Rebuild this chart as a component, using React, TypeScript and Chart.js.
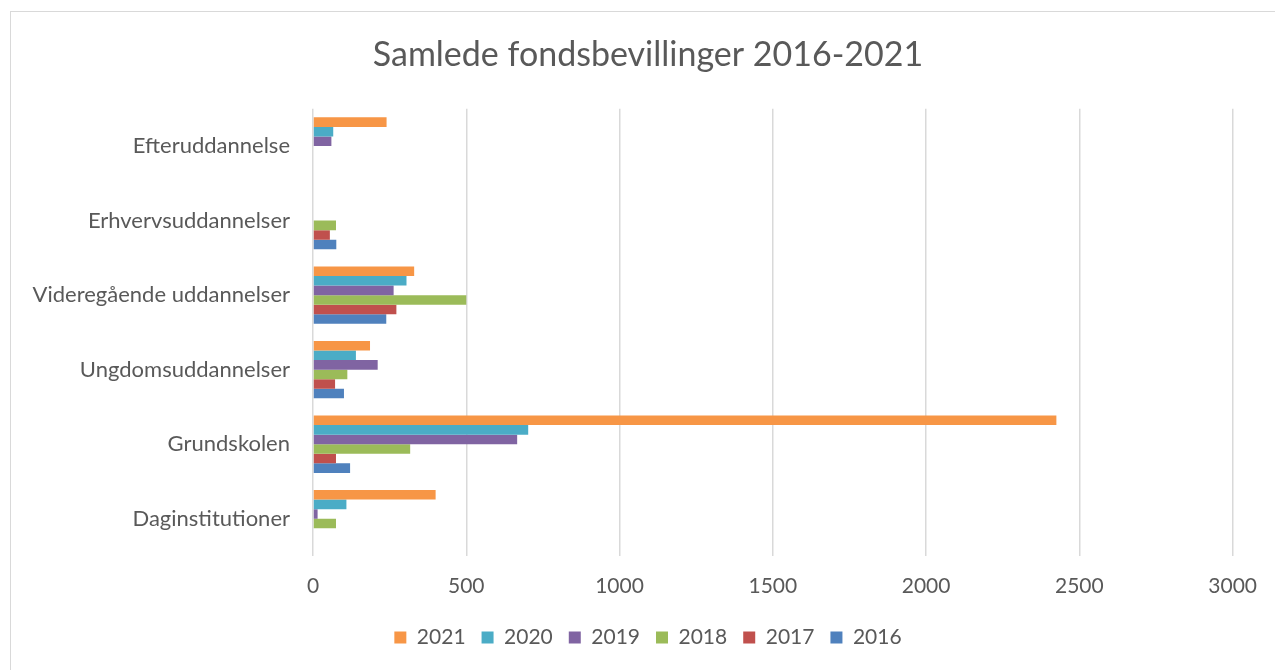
import React, { useEffect, useRef } from "react";
import { Chart, registerables } from "chart.js";

Chart.register(...registerables);

const categories = [
  "Efteruddannelse",
  "Erhvervsuddannelser",
  "Videregående uddannelser",
  "Ungdomsuddannelser",
  "Grundskolen",
  "Daginstitutioner",
];
const years = ["2021", "2020", "2019", "2018", "2017", "2016"];
const v2021 = [240, 0, 330, 186, 2425, 400];
const v2020 = [66, 0, 305, 140, 702, 109];
const v2019 = [60, 0, 263, 211, 666, 15];
const v2018 = [0, 75, 500, 112, 317, 75];
const v2017 = [0, 55, 272, 72, 75, 0];
const v2016 = [0, 76, 239, 101, 121, 0];
const seriesValues = [v2021, v2020, v2019, v2018, v2017, v2016];
const seriesColors = ["#F79646", "#4BACC6", "#8064A2", "#9BBB59", "#C0504D", "#4F81BD"];
const xTicks = [0, 500, 1000, 1500, 2000, 2500, 3000];
const titleText = "Samlede fondsbevillinger 2016-2021";

const FONT = "Lato";
const TEXT = "#595959";

const unclipLabels = {
  id: "unclipLabels",
  afterLayout(chart: any) {
    if (chart.scales.y) chart.scales.y.left = 0;
  },
};

export default function App() {
  const ref = useRef<HTMLCanvasElement | null>(null);

  useEffect(() => {
    if (!ref.current) return;
    const chart = new Chart(ref.current, {
      type: "bar",
      data: {
        labels: categories,
        datasets: years.map((y, i) => ({
          label: y,
          data: seriesValues[i],
          backgroundColor: seriesColors[i],
          borderWidth: 0,
          categoryPercentage: 0.77,
          barPercentage: 1,
        })),
      },
      plugins: [unclipLabels],
      options: {
        indexAxis: "y",
        animation: false,
        responsive: false,
        maintainAspectRatio: false,
        layout: { padding: { left: 62, right: 41, top: 0, bottom: 12 } },
        plugins: {
          title: {
            display: true,
            text: titleText,
            color: TEXT,
            font: { family: FONT, size: 34, weight: "normal" },
            padding: { top: 35, bottom: 33 },
          },
          legend: {
            position: "bottom",
            labels: {
              color: TEXT,
              font: { family: FONT, size: 21 },
              boxWidth: 12,
              boxHeight: 12,
              padding: 16,
            },
          },
          tooltip: { enabled: false },
        },
        scales: {
          x: {
            min: 0,
            max: 3000,
            afterBuildTicks: (axis: any) => {
              axis.ticks = xTicks.map((v) => ({ value: v }));
            },
            afterFit: (axis: any) => {
              axis.height = 55;
            },
            grid: { color: "#d9d9d9", lineWidth: 1.5, drawTicks: false },
            border: { display: false },
            ticks: {
              color: TEXT,
              font: { family: FONT, size: 21 },
              padding: 18,
              callback: (v: any) => String(v),
            },
          },
          y: {
            afterFit: (axis: any) => {
              axis.width = 251;
            },
            grid: { display: false, drawTicks: false },
            border: { display: false },
            ticks: {
              color: TEXT,
              font: { family: FONT, size: 22 },
              padding: 23,
            },
          },
        },
      },
    });
    return () => chart.destroy();
  }, []);

  return (
    <div style={{ position: "fixed", left: 0, top: 0, width: 1275, height: 670, overflow: "hidden", background: "#fff" }}>
      <div
        style={{
          position: "absolute",
          left: 10,
          top: 11,
          width: 1300,
          height: 700,
          border: "1px solid #d9d9d9",
        }}
      />
      <canvas ref={ref} width={1275} height={670} style={{ position: "absolute", left: 0, top: 0 }} />
    </div>
  );
}
